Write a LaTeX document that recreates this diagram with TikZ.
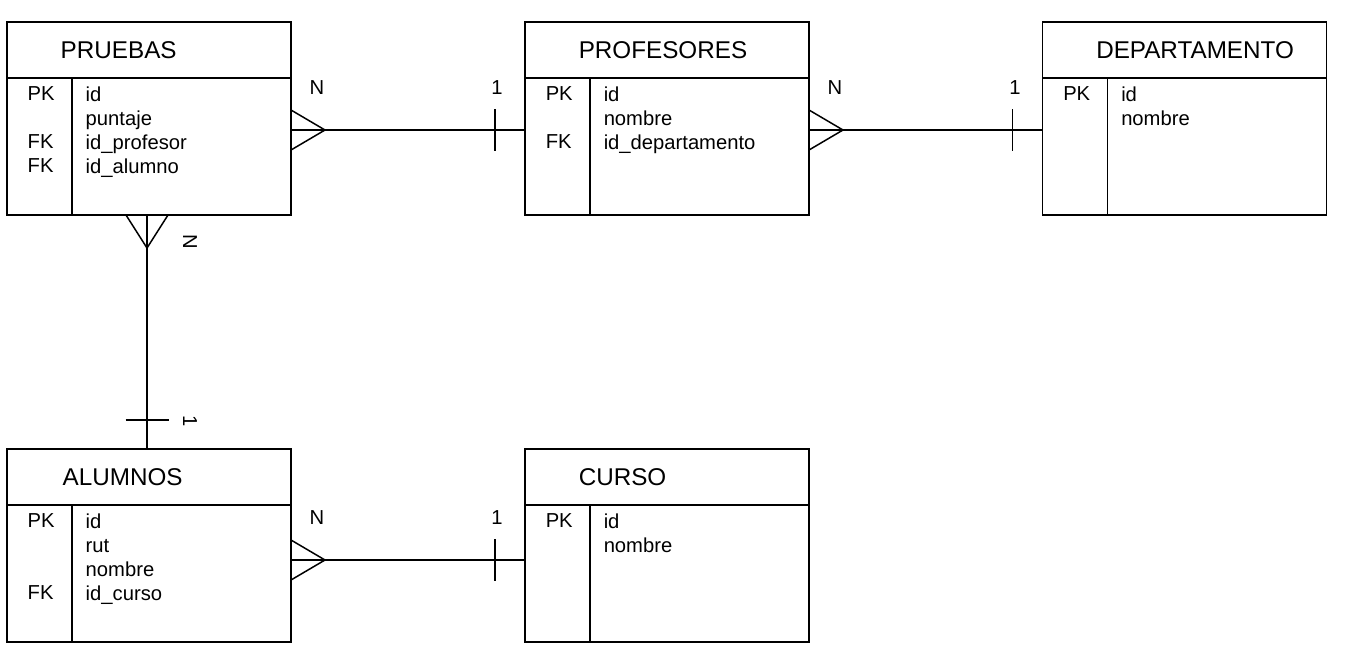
\documentclass[tikz,border=0pt]{standalone}
\usepackage{fontspec}
\setmainfont{Liberation Sans}
\usetikzlibrary{positioning, calc}

\begin{document}
\begin{tikzpicture}[
            line width=0.85pt,
            headbox/.style={draw, minimum width=5.68cm, minimum height=1.12cm, inner sep=0pt, outer sep=0pt},
            bodybox/.style={draw, minimum width=5.68cm, minimum height=2.74cm, inner sep=0pt, outer sep=0pt},
            title/.style={anchor=west, inner sep=0pt, font=\fontsize{13.8}{16}\selectfont},
            rows/.style={anchor=north west, inner sep=0pt, align=left, font=\fontsize{11.5}{13.66}\selectfont},
            card/.style={inner sep=0pt, font=\fontsize{11.5}{13.66}\selectfont}
        ]
        \useasboundingbox (0,0) rectangle (26.92,-13.1);

        % The Tables
        \node[headbox] (pruh) at (2.98,-1.0) {};
        \node[bodybox, below=0pt of pruh] (prub) {};
        \node[title] at ([xshift=1.06cm]pruh.west) {PRUEBAS};
        \draw ([xshift=1.3cm]prub.north west) -- ([xshift=1.3cm]prub.south west);
        \node[rows] (pruk) at ([shift={(0.4,-0.16)}]prub.north west) {PK\\ \\FK\\FK};
        \node[rows] (pruf) at ([shift={(1.56,-0.16)}]prub.north west) {id\\puntaje\\id\_profesor\\id\_alumno};

        \node[headbox] (profh) at (13.34,-1.0) {};
        \node[bodybox, below=0pt of profh] (profb) {};
        \node[title] at ([xshift=1.06cm]profh.west) {PROFESORES};
        \draw ([xshift=1.3cm]profb.north west) -- ([xshift=1.3cm]profb.south west);
        \node[rows] (profk) at ([shift={(0.4,-0.16)}]profb.north west) {PK\\ \\FK};
        \node[rows] (proff) at ([shift={(1.56,-0.16)}]profb.north west) {id\\nombre\\id\_departamento};

        \node[headbox] (deph) at (23.69,-1.0) {};
        \node[bodybox, below=0pt of deph] (depb) {};
        \node[title] at ([xshift=1.06cm]deph.west) {DEPARTAMENTO};
        \draw ([xshift=1.3cm]depb.north west) -- ([xshift=1.3cm]depb.south west);
        \node[rows] (depk) at ([shift={(0.4,-0.16)}]depb.north west) {PK};
        \node[rows] (depf) at ([shift={(1.56,-0.16)}]depb.north west) {id\\nombre};

        \node[headbox] (aluh) at (2.98,-9.54) {};
        \node[bodybox, below=0pt of aluh] (alub) {};
        \node[title] at ([xshift=1.1cm]aluh.west) {ALUMNOS};
        \draw ([xshift=1.3cm]alub.north west) -- ([xshift=1.3cm]alub.south west);
        \node[rows] (aluk) at ([shift={(0.4,-0.16)}]alub.north west) {PK\\ \\ \\FK};
        \node[rows] (aluf) at ([shift={(1.56,-0.16)}]alub.north west) {id\\rut\\nombre\\id\_curso};

        \node[headbox] (curh) at (13.34,-9.54) {};
        \node[bodybox, below=0pt of curh] (curb) {};
        \node[title] at ([xshift=1.06cm]curh.west) {CURSO};
        \draw ([xshift=1.3cm]curb.north west) -- ([xshift=1.3cm]curb.south west);
        \node[rows] (curk) at ([shift={(0.4,-0.16)}]curb.north west) {PK};
        \node[rows] (curf) at ([shift={(1.56,-0.16)}]curb.north west) {id\\nombre};

        % Relations
        \draw ([yshift=0.33cm]prub.east) coordinate (r1a) -- ([yshift=0.33cm]profb.west) coordinate (r1b);
        \draw ([yshift=0.4cm]r1a) -- ++(0.68,-0.4) -- ([yshift=-0.4cm]r1a);
        \draw ([shift={(-0.6,0.42)}]r1b) -- ++(0,-0.84);

        \draw ([yshift=0.33cm]profb.east) coordinate (r2a) -- ([yshift=0.33cm]depb.west) coordinate (r2b);
        \draw ([yshift=0.4cm]r2a) -- ++(0.68,-0.4) -- ([yshift=-0.4cm]r2a);
        \draw ([shift={(-0.6,0.42)}]r2b) -- ++(0,-0.84);

        \draw ([xshift=-0.04cm]prub.south) coordinate (r3a) -- ([xshift=-0.04cm]aluh.north) coordinate (r3b);
        \draw ([xshift=-0.42cm]r3a) -- ++(0.42,-0.66) -- ([xshift=0.42cm]r3a);
        \draw ([shift={(-0.43,0.58)}]r3b) -- ++(0.86,0);

        \draw ([yshift=0.27cm]alub.east) coordinate (r4a) -- ([yshift=0.27cm]curb.west) coordinate (r4b);
        \draw ([yshift=0.4cm]r4a) -- ++(0.68,-0.4) -- ([yshift=-0.4cm]r4a);
        \draw ([shift={(-0.6,0.42)}]r4b) -- ++(0,-0.84);

        % Cardinalities
        \node[card] at (6.34,-1.76) {N};
        \node[card] at (9.94,-1.76) {1};
        \node[card] at (16.70,-1.76) {N};
        \node[card] at (20.30,-1.76) {1};
        \node[card, rotate=-90] at (3.80,-4.84) {N};
        \node[card, rotate=-90] at (3.80,-8.42) {1};
        \node[card] at (6.34,-10.36) {N};
        \node[card] at (9.94,-10.36) {1};

        \end{tikzpicture}
\end{document}
